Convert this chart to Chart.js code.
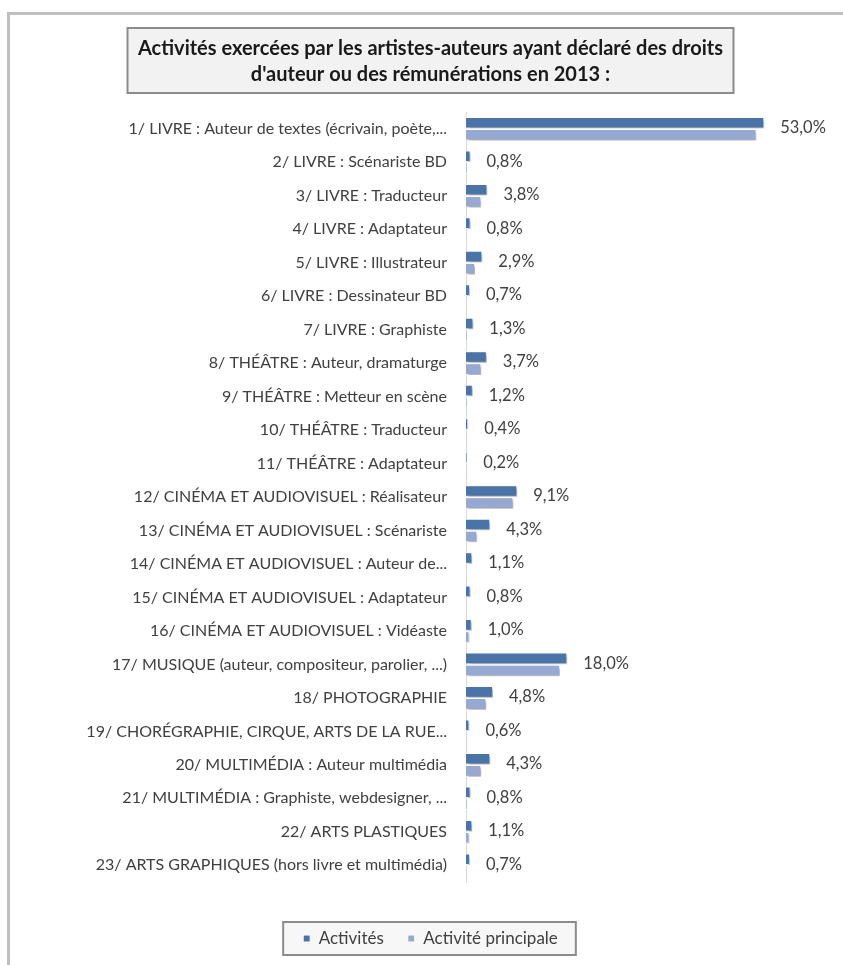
<!DOCTYPE html>
<html lang="fr">
<head>
<meta charset="utf-8">
<title>Activités exercées par les artistes-auteurs</title>
<script src="https://cdn.jsdelivr.net/npm/chart.js@4.4.1/dist/chart.umd.min.js"></script>
<style>
  html, body { margin: 0; padding: 0; background: #fff; }
  #wrap { position: relative; width: 843px; height: 965px; overflow: hidden; }
  #frame { position: absolute; left: 7px; top: 12px; width: 900px; height: 1000px;
           border-top: 3px solid #bfbfbf; border-left: 3px solid #bfbfbf; }
  #chart { position: absolute; left: 0; top: 0; }
</style>
</head>
<body>
<div id="wrap">
  <div id="frame"></div>
  <canvas id="chart" width="843" height="965"></canvas>
</div>
<script>
/* ~~~~~~~~~~ DATA ~~~~~~~~~~*/

const titleLines = [
  'Activités exercées par les artistes-auteurs ayant déclaré des droits',
  "d'auteur ou des rémunérations en 2013 :"
];

const categories = [
  '1/ LIVRE : Auteur de textes (écrivain, poète,...',
  '2/ LIVRE : Scénariste BD',
  '3/ LIVRE : Traducteur',
  '4/ LIVRE : Adaptateur',
  '5/ LIVRE : Illustrateur',
  '6/ LIVRE : Dessinateur BD',
  '7/ LIVRE : Graphiste',
  '8/ THÉÂTRE : Auteur, dramaturge',
  '9/ THÉÂTRE : Metteur en scène',
  '10/ THÉÂTRE : Traducteur',
  '11/ THÉÂTRE : Adaptateur',
  '12/ CINÉMA ET AUDIOVISUEL : Réalisateur',
  '13/ CINÉMA ET AUDIOVISUEL : Scénariste',
  '14/ CINÉMA ET AUDIOVISUEL : Auteur de...',
  '15/ CINÉMA ET AUDIOVISUEL : Adaptateur',
  '16/ CINÉMA ET AUDIOVISUEL : Vidéaste',
  '17/ MUSIQUE (auteur, compositeur, parolier, ...)',
  '18/ PHOTOGRAPHIE',
  '19/ CHORÉGRAPHIE, CIRQUE, ARTS DE LA RUE...',
  '20/ MULTIMÉDIA : Auteur multimédia',
  '21/ MULTIMÉDIA : Graphiste, webdesigner, ...',
  '22/ ARTS PLASTIQUES',
  '23/ ARTS GRAPHIQUES (hors livre et multimédia)'
];

const seriesNames = ['Activités', 'Activité principale'];

// % of artists-authors (all activities)
const activites = [53.0, 0.8, 3.8, 0.8, 2.9, 0.7, 1.3, 3.7, 1.2, 0.4, 0.2, 9.1,
  4.3, 1.1, 0.8, 1.0, 18.0, 4.8, 0.6, 4.3, 0.8, 1.1, 0.7];

// % main activity (no labels in the picture)
const activitePrincipale = [51.6, 0.2, 2.7, 0.1, 1.6, 0.1, 0.2, 2.7, 0.2, 0.1, 0.0, 8.4,
  2.0, 0.1, 0.1, 0.6, 16.7, 3.6, 0.1, 2.7, 0.2, 0.6, 0.1];

const xMin = 0;
const xMax = 67;

/* ~~~~~~~~~~ STYLE ~~~~~~~~~~*/

const FONT = 'Lato, "Open Sans", sans-serif';
const TEXT_COLOR = '#404040';
const DARK_BLUE = '#4a73a8';
const LIGHT_BLUE = '#95a9d3';

const formatPct = (v) => v.toFixed(1).replace('.', ',') + '%';

/* ~~~~~~~~~~ PLUGINS ~~~~~~~~~~*/

// boxes behind the title and the legend
const boxes = {
  id: 'boxes',
  beforeDraw(chart) {
    const ctx = chart.ctx;
    ctx.save();
    ctx.fillStyle = '#f2f2f2';
    ctx.strokeStyle = '#8c8c8c';
    ctx.lineWidth = 2;

    const t = chart.titleBlock;
    const cx = (t.left + t.right) / 2;
    const tTop = t.top + t.options.padding.top - 8;
    const tBottom = t.bottom - t.options.padding.bottom + 5;
    ctx.fillRect(cx - 303, tTop, 606, tBottom - tTop);
    ctx.strokeRect(cx - 303, tTop, 606, tBottom - tTop);

    const hits = chart.legend.legendHitBoxes;
    if (hits && hits.length) {
      const left = Math.min(...hits.map(h => h.left)) - 20;
      const right = Math.max(...hits.map(h => h.left + h.width)) + 18;
      const top = Math.min(...hits.map(h => h.top)) - 8;
      const bottom = Math.max(...hits.map(h => h.top + h.height)) + 8;
      ctx.fillStyle = '#f7f7f7';
      ctx.fillRect(left, top, right - left, bottom - top);
      ctx.strokeRect(left, top, right - left, bottom - top);
    }
    ctx.restore();
  }
};

// drop shadow on the bars, like the Excel original
const barShadow = {
  id: 'barShadow',
  beforeDatasetsDraw(chart) {
    const ctx = chart.ctx;
    ctx.save();
    ctx.shadowColor = 'rgba(0,0,0,0.35)';
    ctx.shadowBlur = 3;
    ctx.shadowOffsetX = 2;
    ctx.shadowOffsetY = 2;
  },
  afterDatasetsDraw(chart) {
    chart.ctx.restore();
  }
};

// value labels for the first series only
const valueLabels = {
  id: 'valueLabels',
  afterDatasetsDraw(chart) {
    const ctx = chart.ctx;
    const meta = chart.getDatasetMeta(0);
    const yScale = chart.scales.y;
    ctx.save();
    ctx.font = '16.5px ' + FONT;
    ctx.fillStyle = TEXT_COLOR;
    ctx.textAlign = 'left';
    ctx.textBaseline = 'middle';
    meta.data.forEach((bar, i) => {
      ctx.fillText(formatPct(activites[i]), bar.x + 16, yScale.getPixelForValue(i) - 1);
    });
    ctx.restore();
  }
};

/* ~~~~~~~~~~ CHART ~~~~~~~~~~*/

const ctx = document.getElementById('chart').getContext('2d');

new Chart(ctx, {
  type: 'bar',
  data: {
    labels: categories,
    datasets: [
      {
        label: seriesNames[0],
        data: activites,
        backgroundColor: DARK_BLUE,
        borderColor: '#ffffff',
        borderWidth: 1,
        categoryPercentage: 0.72,
        barPercentage: 0.96
      },
      {
        label: seriesNames[1],
        data: activitePrincipale,
        backgroundColor: LIGHT_BLUE,
        borderColor: '#ffffff',
        borderWidth: 1,
        categoryPercentage: 0.72,
        barPercentage: 0.96
      }
    ]
  },
  options: {
    indexAxis: 'y',
    responsive: false,
    animation: false,
    devicePixelRatio: 1,
    layout: {
      padding: { left: 18, right: 0, top: 0, bottom: 8 }
    },
    scales: {
      x: {
        min: xMin,
        max: xMax,
        grid: { display: false, drawTicks: false },
        border: { display: false },
        ticks: { display: false },
        afterFit(scale) {
          scale.height = 24;
        }
      },
      y: {
        grid: { display: false, drawTicks: false },
        border: { display: true, color: '#d9d9d9', width: 1 },
        ticks: {
          color: TEXT_COLOR,
          font: { family: FONT, size: 16 },
          padding: 19,
          autoSkip: false
        },
        afterFit(scale) {
          scale.width = 448;
        }
      }
    },
    plugins: {
      title: {
        display: true,
        text: titleLines,
        color: '#1a1a1a',
        font: { family: FONT, size: 20, weight: 'bold', lineHeight: 26 / 20 },
        padding: { top: 36, bottom: 24 }
      },
      legend: {
        position: 'bottom',
        labels: {
          color: TEXT_COLOR,
          font: { family: FONT, size: 17 },
          boxWidth: 7,
          boxHeight: 7,
          padding: 24
        }
      },
      tooltip: { enabled: false }
    }
  },
  plugins: [boxes, barShadow, valueLabels]
});
</script>
</body>
</html>
